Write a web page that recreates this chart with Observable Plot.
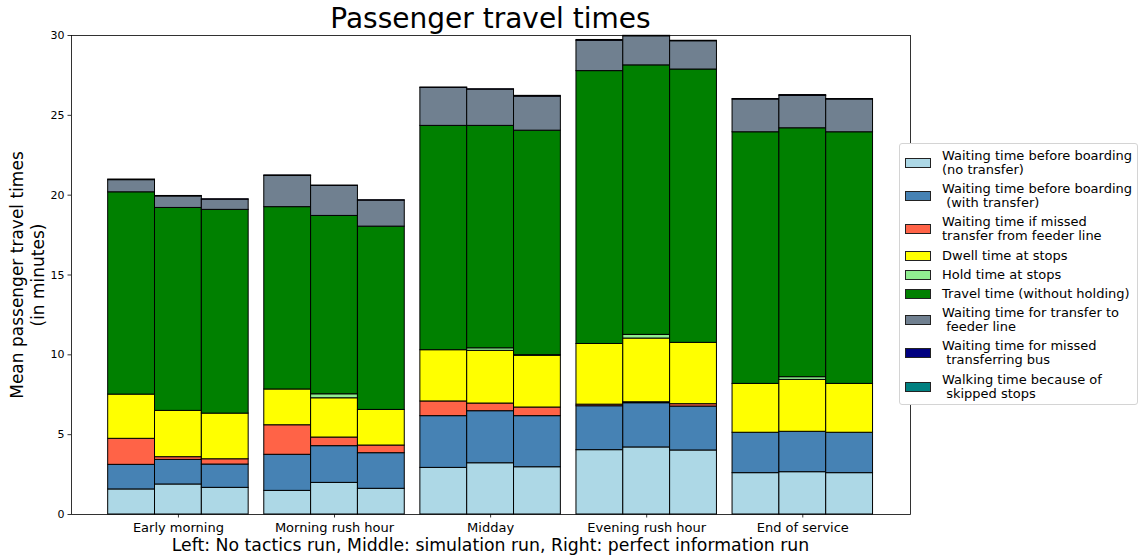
<!DOCTYPE html>
<html>
<head>
<meta charset="utf-8">
<script src="https://cdn.jsdelivr.net/npm/d3@7"></script>
<script src="https://cdn.jsdelivr.net/npm/@observablehq/plot@0.6"></script>
<style>
  html, body { margin: 0; padding: 0; background: #fff; }
  #wrap { position: relative; width: 1146px; height: 560px; font-family: "DejaVu Sans", sans-serif; color: #000; }
  #chart { position: absolute; left: 0; top: 0; }
  .title { position: absolute; left: 71px; width: 839px; top: 2px; text-align: center; font-size: 28px; line-height: 34px; }
  .xlabel { position: absolute; left: 71px; width: 839px; top: 535px; text-align: center; font-size: 17.3px; line-height: 20px; }
  .ylabel { position: absolute; left: 28px; top: 275px; width: 400px; transform: translate(-50%, -50%) rotate(-90deg); text-align: center; font-size: 17px; line-height: 21px; }
  .legend { position: absolute; left: 899px; top: 143px; width: 239px; height: 262px; border: 1px solid #d4d4d4; border-radius: 3px; background: #fff; box-sizing: border-box; padding: 5px 0 0 5px; }
  .item { display: flex; align-items: center; margin-bottom: 5.2px; }
  .sw { width: 26px; height: 10px; border: 1px solid #222; box-sizing: border-box; flex: none; }
  .lt { margin-left: 11px; font-size: 13px; line-height: 14px; white-space: pre; }
</style>
</head>
<body>
<div id="wrap">
  <div id="chart"></div>
  <div class="title">Passenger travel times</div>
  <div class="ylabel">Mean passenger travel times<br>(in minutes)</div>
  <div class="xlabel">Left: No tactics run, Middle: simulation run, Right: perfect information run</div>
  <div class="legend" id="legend"></div>
</div>
<script>
const periods = ["Early morning", "Morning rush hour", "Midday", "Evening rush hour", "End of service"];
const runs = ["No tactics run", "Simulation run", "Perfect information run"];
const components = [
  "Waiting time before boarding\n(no transfer)",
  "Waiting time before boarding\n (with transfer)",
  "Waiting time if missed\ntransfer from feeder line",
  "Dwell time at stops",
  "Hold time at stops",
  "Travel time (without holding)",
  "Waiting time for transfer to\n feeder line",
  "Waiting time for missed\n transferring bus",
  "Walking time because of\n skipped stops"
];
const colors = ["lightblue", "steelblue", "tomato", "yellow", "lightgreen", "green", "slategray", "navy", "teal"];
const yTicks = [0, 5, 10, 15, 20, 25, 30];
const barWidth = 0.3; // bar width in category units (as in the original bar chart)

// 15 values each: period-major, three runs per period (left, middle, right)
const waitNoTransfer   = [1.57, 1.88, 1.67,  1.48, 1.98, 1.61,  2.92, 3.21, 2.96,  4.03, 4.20, 4.01,  2.59, 2.65, 2.59];
const waitWithTransfer = [1.54, 1.54, 1.46,  2.26, 2.30, 2.23,  3.24, 3.26, 3.20,  2.75, 2.77, 2.75,  2.53, 2.53, 2.53];
const missedFeeder     = [1.63, 0.17, 0.33,  1.85, 0.54, 0.48,  0.92, 0.48, 0.54,  0.10, 0.06, 0.15,  0.00, 0.00, 0.00];
const dwellTime        = [2.77, 2.90, 2.86,  2.24, 2.46, 2.23,  3.21, 3.30, 3.24,  3.80, 3.99, 3.84,  3.06, 3.25, 3.06];
const holdTime         = [0.00, 0.00, 0.00,  0.00, 0.25, 0.00,  0.00, 0.16, 0.04,  0.00, 0.23, 0.00,  0.00, 0.17, 0.00];
const travelTime       = [12.67, 12.71, 12.76, 11.42, 11.17, 11.48, 14.05, 13.93, 14.06, 17.09, 16.88, 17.12, 15.76, 15.59, 15.76];
const waitFeeder       = [0.76, 0.72, 0.64,  1.95, 1.88, 1.63,  2.38, 2.27, 2.13,  1.90, 1.82, 1.77,  2.05, 2.03, 2.05];
const missedBus        = [0.04, 0.03, 0.02,  0.04, 0.02, 0.02,  0.02, 0.02, 0.05,  0.05, 0.03, 0.03,  0.03, 0.05, 0.03];
const walkingTime      = [0, 0, 0,  0, 0, 0,  0, 0, 0,  0, 0, 0,  0, 0, 0];

const series = [waitNoTransfer, waitWithTransfer, missedFeeder, dwellTime, holdTime, travelTime, waitFeeder, missedBus, walkingTime];

// Build the stacked table: one rect per (period, run, component)
const table = [];
periods.forEach((p, i) => {
  runs.forEach((r, j) => {
    const center = i + (j - 1) * barWidth;
    let base = 0;
    series.forEach((s, k) => {
      const v = s[i * runs.length + j];
      if (v > 0) {
        table.push({period: p, run: r, component: components[k], value: v,
                    x1: center - barWidth / 2, x2: center + barWidth / 2, y1: base, y2: base + v});
      }
      base += v;
    });
  });
});

const chart = Plot.plot({
  width: 1146,
  height: 560,
  marginLeft: 71,
  marginRight: 236,
  marginTop: 35,
  marginBottom: 46,
  style: {fontFamily: "DejaVu Sans, sans-serif", fontSize: "11px", color: "#000", background: "#fff", overflow: "visible"},
  x: {domain: [-0.685, periods.length - 1 + 0.69], axis: null},
  y: {domain: [0, 30], axis: null},
  color: {domain: components, range: colors},
  marks: [
    Plot.rect(table, {x1: "x1", x2: "x2", y1: "y1", y2: "y2", fill: "component", stroke: "#000", strokeWidth: 1}),
    Plot.axisY({ticks: yTicks, tickSize: 3.5, tickPadding: 3.5, fontSize: 11, label: null, strokeWidth: 0.8}),
    Plot.axisX({ticks: d3.range(periods.length), tickFormat: i => periods[i], tickSize: 3.5, tickPadding: 4.5, fontSize: 13, label: null, strokeWidth: 0.8}),
    Plot.frame({stroke: "#000", strokeWidth: 0.8})
  ]
});
document.getElementById("chart").appendChild(chart);

const legend = document.getElementById("legend");
components.forEach((c, k) => {
  const item = document.createElement("div");
  item.className = "item";
  const sw = document.createElement("div");
  sw.className = "sw";
  sw.style.background = colors[k];
  const lt = document.createElement("div");
  lt.className = "lt";
  lt.textContent = c;
  item.appendChild(sw);
  item.appendChild(lt);
  legend.appendChild(item);
});
</script>
</body>
</html>
